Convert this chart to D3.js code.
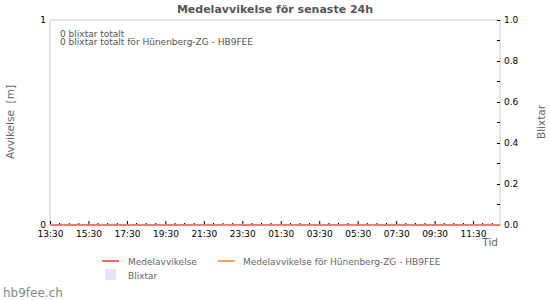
<!DOCTYPE html>
<html>
<head>
<meta charset="utf-8">
<script src="https://cdn.jsdelivr.net/npm/d3@7"></script>
<style>
  body { margin: 0; background: #fff; }
  text { font-family: "DejaVu Sans", sans-serif; }
</style>
</head>
<body>
<div id="chart"></div>
<script>
// time window of the chart (last 24h)
const rangeStart = "2024-05-01 13:30";
const rangeEnd = "2024-05-02 12:54";

// sample times and values (all zero in this period)
const sampleTimes = [
    "2024-05-01 13:30", "2024-05-01 14:30", "2024-05-01 15:30", "2024-05-01 16:30",
    "2024-05-01 17:30", "2024-05-01 18:30", "2024-05-01 19:30", "2024-05-01 20:30",
    "2024-05-01 21:30", "2024-05-01 22:30", "2024-05-01 23:30", "2024-05-02 00:30",
    "2024-05-02 01:30", "2024-05-02 02:30", "2024-05-02 03:30", "2024-05-02 04:30",
    "2024-05-02 05:30", "2024-05-02 06:30", "2024-05-02 07:30", "2024-05-02 08:30",
    "2024-05-02 09:30", "2024-05-02 10:30", "2024-05-02 11:30", "2024-05-02 12:30",
    "2024-05-02 12:54"
];
const medelavvikelse = [0, 0, 0, 0, 0, 0, 0, 0, 0, 0, 0, 0, 0, 0, 0, 0, 0, 0, 0, 0, 0, 0, 0, 0, 0];
const medelLokal = [0, 0, 0, 0, 0, 0, 0, 0, 0, 0, 0, 0, 0, 0, 0, 0, 0, 0, 0, 0, 0, 0, 0, 0, 0];
const blixtar = [];

const leftTicks = [0, 1];
const rightTicks = [0, 0.2, 0.4, 0.6, 0.8, 1.0];
const rightMinorTicks = [0.1, 0.3, 0.5, 0.7, 0.9];

const infoLines = ["0 blixtar totalt", "0 blixtar totalt för Hünenberg-ZG - HB9FEE"];
const legendItems = [
    { label: "Medelavvikelse", color: "#ff6666", type: "line" },
    { label: "Medelavvikelse för Hünenberg-ZG - HB9FEE", color: "#ffa060", type: "line" },
    { label: "Blixtar", color: "#e6e6fa", type: "box" }
];

const width = 550, height = 300;
const plot = { left: 50, right: 500, top: 20, bottom: 225 };
const parse = d3.timeParse("%Y-%m-%d %H:%M");

const svg = d3.select("#chart")
    .append("svg")
    .attr("width", width)
    .attr("height", height);

const x = d3.scaleTime()
    .domain([parse(rangeStart), parse(rangeEnd)])
    .range([plot.left, plot.right]);
const y = d3.scaleLinear().domain([0, 1]).range([plot.bottom, plot.top]);
const yRight = d3.scaleLinear().domain([0, 1]).range([plot.bottom, plot.top]);

// frame
svg.append("path")
    .attr("d", `M${plot.left},${plot.bottom}V${plot.top}H${plot.right}V${plot.bottom}`)
    .attr("fill", "none")
    .attr("stroke", "#cccccc");

// title
svg.append("text")
    .attr("x", 275).attr("y", 13)
    .attr("text-anchor", "middle")
    .attr("font-size", 11).attr("font-weight", "bold")
    .attr("fill", "#555")
    .text("Medelavvikelse för senaste 24h");

// x axis ticks: every 30 min, labelled every 2h
const halfHours = d3.timeMinute.every(30).range(x.domain()[0], x.domain()[1]);
const majors = halfHours.filter((d, i) => i % 4 === 0);
const minors = halfHours.filter((d, i) => i % 4 !== 0);

svg.append("g").selectAll("line")
    .data(minors).join("line")
    .attr("x1", d => x(d)).attr("x2", d => x(d))
    .attr("y1", plot.bottom).attr("y2", plot.bottom - 2)
    .attr("stroke", "#000");

const xAxis = svg.append("g")
    .attr("transform", `translate(0,${plot.bottom})`)
    .call(d3.axisBottom(x).tickValues(majors)
        .tickFormat(d3.timeFormat("%H:%M"))
        .tickSizeInner(-4).tickSizeOuter(0).tickPadding(4));
xAxis.select(".domain").remove();
xAxis.selectAll("text").attr("font-size", 9).attr("fill", "#000")
    .attr("font-family", "DejaVu Sans").attr("dy", "0.85em");

// left axis
const yAxis = svg.append("g")
    .attr("transform", `translate(${plot.left},0)`)
    .call(d3.axisLeft(y).tickValues(leftTicks).tickFormat(d3.format("d"))
        .tickSize(0).tickPadding(4));
yAxis.select(".domain").remove();
yAxis.selectAll("text").attr("font-size", 9).attr("fill", "#000")
    .attr("font-family", "DejaVu Sans");

// right axis
svg.append("g").selectAll("line")
    .data(rightMinorTicks).join("line")
    .attr("x1", plot.right - 3).attr("x2", plot.right)
    .attr("y1", d => yRight(d)).attr("y2", d => yRight(d))
    .attr("stroke", "#000");
const yAxisR = svg.append("g")
    .attr("transform", `translate(${plot.right},0)`)
    .call(d3.axisRight(yRight).tickValues(rightTicks).tickFormat(d3.format(".1f"))
        .tickSizeInner(-3).tickSizeOuter(0).tickPadding(4));
yAxisR.select(".domain").remove();
yAxisR.selectAll("text").attr("font-size", 9).attr("fill", "#000")
    .attr("font-family", "DejaVu Sans");

// blixtar bars (none)
svg.append("g").selectAll("rect")
    .data(blixtar).join("rect")
    .attr("x", d => x(parse(d.time)) - 2).attr("width", 4)
    .attr("y", d => yRight(d.count)).attr("height", d => plot.bottom - yRight(d.count))
    .attr("fill", "#e6e6fa");

// lines
const line = d3.line()
    .x((d, i) => x(parse(sampleTimes[i])))
    .y(d => y(d));
svg.append("path").datum(medelLokal)
    .attr("d", line).attr("fill", "none")
    .attr("stroke", "#ffa060").attr("stroke-width", 1.5);
svg.append("path").datum(medelavvikelse)
    .attr("d", line).attr("fill", "none")
    .attr("stroke", "#ff6666").attr("stroke-width", 1.5);

// info text
svg.append("g").selectAll("text")
    .data(infoLines).join("text")
    .attr("x", 60).attr("y", (d, i) => 37 + i * 8)
    .attr("font-size", 9).attr("fill", "#555")
    .text(d => d);

// axis titles
svg.append("text")
    .attr("transform", "translate(14,122) rotate(-90)")
    .attr("text-anchor", "middle")
    .attr("font-size", 10.5).attr("fill", "#666")
    .attr("xml:space", "preserve")
    .text("Avvikelse  [m]");
svg.append("text")
    .attr("transform", "translate(545,122) rotate(-90)")
    .attr("text-anchor", "middle")
    .attr("font-size", 10.5).attr("fill", "#666")
    .text("Blixtar");
svg.append("text")
    .attr("x", 498).attr("y", 246)
    .attr("text-anchor", "end")
    .attr("font-size", 10.5).attr("fill", "#666")
    .text("Tid");

// legend
const legendPos = [{ x: 102, y: 261 }, { x: 218, y: 261 }, { x: 102, y: 275 }];
const legend = svg.append("g").selectAll("g")
    .data(legendItems).join("g")
    .attr("transform", (d, i) => `translate(${legendPos[i].x},${legendPos[i].y})`);
legend.filter(d => d.type === "line").append("line")
    .attr("x1", 0).attr("x2", 17).attr("y1", 0).attr("y2", 0)
    .attr("stroke", d => d.color).attr("stroke-width", 2);
legend.filter(d => d.type === "box").append("rect")
    .attr("x", 3).attr("y", -6).attr("width", 11).attr("height", 11)
    .attr("fill", d => d.color);
legend.append("text")
    .attr("x", (d, i) => i === 1 ? 25 : 26).attr("y", 3.5)
    .attr("font-size", 9).attr("fill", "#666")
    .text(d => d.label);

// site name
svg.append("text")
    .attr("x", 3).attr("y", 297)
    .attr("font-size", 12).attr("fill", "#888")
    .text("hb9fee.ch");
</script>
</body>
</html>
